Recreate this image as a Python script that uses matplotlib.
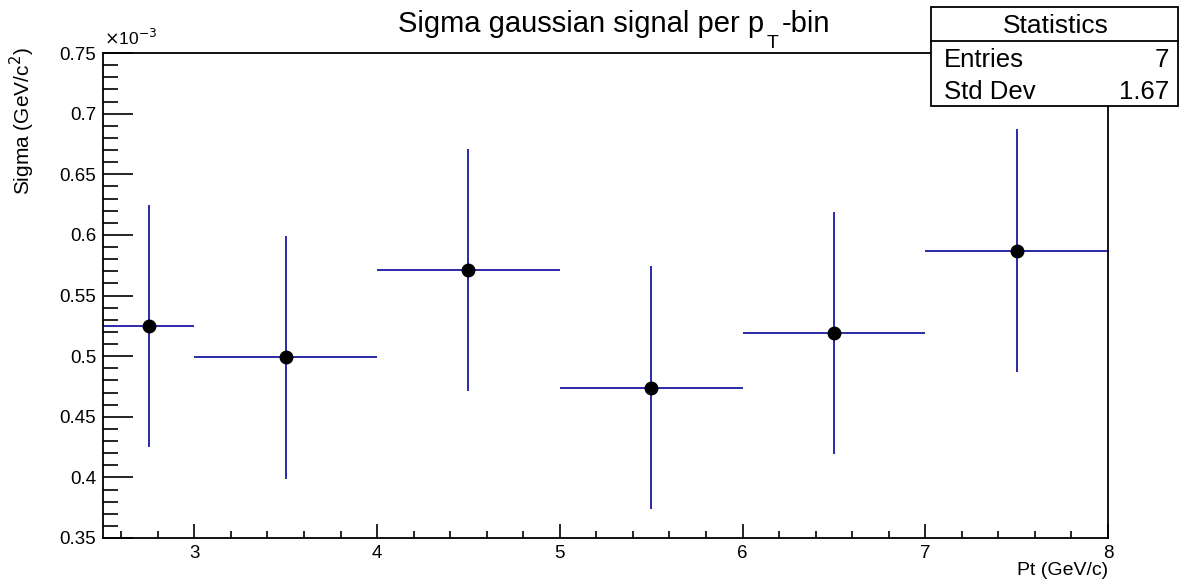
import matplotlib
matplotlib.use("Agg")
import matplotlib.pyplot as plt
from matplotlib.ticker import MultipleLocator, FuncFormatter
from matplotlib.patches import Rectangle
from matplotlib.lines import Line2D
import numpy as np

plt.rcParams['font.family'] = ['Liberation Sans', 'DejaVu Sans']

# Data (sigma in units of 1e-3 GeV/c^2)
bin_edges = [2.5, 3.0, 4.0, 5.0, 6.0, 7.0, 8.0]
sigma_vals = [0.525, 0.499, 0.571, 0.474, 0.519, 0.587]
sigma_errs = [0.100, 0.100, 0.100, 0.100, 0.100, 0.100]
stats_labels = ["Entries", "Std Dev"]
stats_values = ["7", "1.67"]

edges = np.array(bin_edges)
centers = 0.5 * (edges[:-1] + edges[1:])
halfw = 0.5 * (edges[1:] - edges[:-1])

W, H = 1180, 584
fig = plt.figure(figsize=(W / 100, H / 100), dpi=100)
ax = fig.add_axes([103 / W, 1 - 538 / H, (1108 - 103) / W, (538 - 53) / H])

ax.errorbar(centers, sigma_vals, xerr=halfw, yerr=sigma_errs, fmt='none',
            ecolor='#2a2aa8', elinewidth=1.4, capsize=0, zorder=2)
ax.plot(centers, sigma_vals, 'o', color='black', markersize=9, zorder=3)

ax.set_xlim(2.5, 8.0)
ax.set_ylim(0.35, 0.75)

ax.xaxis.set_major_locator(MultipleLocator(1))
ax.xaxis.set_minor_locator(MultipleLocator(0.2))
ax.yaxis.set_major_locator(MultipleLocator(0.05))
ax.yaxis.set_minor_locator(MultipleLocator(0.01))

def fmt(v, pos):
    return ("%.2f" % v).rstrip('0').rstrip('.')
ax.yaxis.set_major_formatter(FuncFormatter(fmt))
ax.xaxis.set_major_formatter(FuncFormatter(lambda v, p: "%g" % v))

ax.tick_params(axis='both', which='both', direction='in', top=False, right=False,
               labelsize=13.5, width=1.2, colors='black')
ax.tick_params(axis='y', which='major', length=21.6, pad=5)
ax.tick_params(axis='y', which='minor', length=10.8)
ax.tick_params(axis='x', which='major', length=10, pad=5)
ax.tick_params(axis='x', which='minor', length=5)
for sp in ax.spines.values():
    sp.set_linewidth(1.3)

# multiplier
fig.text(104 / W, 1 - 45 / H, r"$\times$10$^{-3}$", fontsize=12.5, ha='left', va='baseline')

# axis titles
fig.text(1108 / W, 1 - 575 / H, "Pt (GeV/c)", fontsize=14, ha='right', va='baseline')
fig.text(22 / W, 1 - 47 / H, r"Sigma (GeV/c$^{2}$)", fontsize=15, rotation=90,
         ha='center', va='top')

# title built from pieces: "Sigma gaussian signal per p" + subscript T + "-bin"
renderer = fig.canvas.get_renderer()
tb = 1 - 32 / H
t1 = fig.text(0, tb, "Sigma gaussian signal per p", fontsize=21, ha='left', va='baseline')
t2 = fig.text(0, 1 - 48 / H, "T", fontsize=14, ha='left', va='baseline')
t3 = fig.text(0, tb, "-bin", fontsize=21, ha='left', va='baseline')
w1 = t1.get_window_extent(renderer).width
w2 = t2.get_window_extent(renderer).width
w3 = t3.get_window_extent(renderer).width
gap = 3
total = w1 + gap + w2 + gap + w3
x0 = 614 - total / 2
t1.set_x(x0 / W)
t2.set_x((x0 + w1 + gap) / W)
t3.set_x((x0 + w1 + gap + w2 + gap) / W)

# stats box
bx0, bx1, by0, by1 = 931, 1178, 7, 106
fig.patches.append(Rectangle((bx0 / W, 1 - by1 / H), (bx1 - bx0) / W, (by1 - by0) / H,
                             transform=fig.transFigure, facecolor='white',
                             edgecolor='black', linewidth=1.3, zorder=10))
fig.lines.append(Line2D([bx0 / W, bx1 / W], [1 - 41 / H, 1 - 41 / H],
                        transform=fig.transFigure, color='black', linewidth=1.3, zorder=11))
fig.text((bx0 + bx1) / 2 / W + 1 / W, 1 - 33 / H, "Statistics", fontsize=19, ha='center',
         va='baseline', zorder=12)
rows_y = [67, 99]
for lab, val, yy in zip(stats_labels, stats_values, rows_y):
    fig.text(944 / W, 1 - yy / H, lab, fontsize=18.5, ha='left', va='baseline', zorder=12)
    fig.text(1169 / W, 1 - yy / H, val, fontsize=18.5, ha='right', va='baseline', zorder=12)

fig.savefig("out.png", dpi=100, facecolor='white')
